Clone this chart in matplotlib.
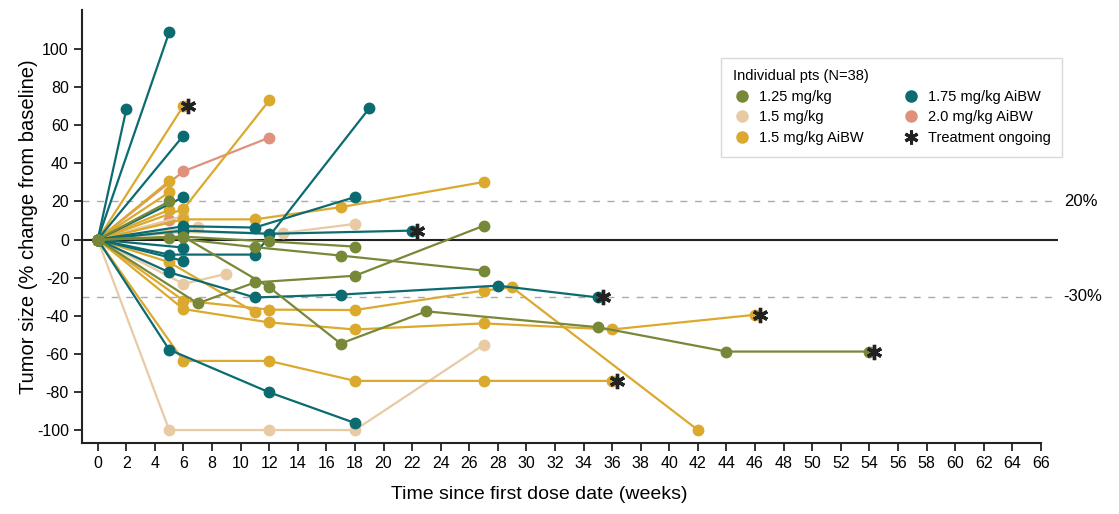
import matplotlib.pyplot as plt
from matplotlib.lines import Line2D

# each patient: (weeks, % change from baseline, treatment ongoing)
dose_125 = [
    ([0, 5], [0, 20], False),
    ([0, 5, 11, 17, 27], [0, 1, -4, -8.4, -16.3], False),
    ([0, 6, 12, 18], [0, 1.5, -1, -3.7], False),
    ([0, 6, 12, 17, 23, 35, 44, 54], [0, 1.5, -25, -54.6, -37.7, -46, -58.8, -58.8], True),
    ([0, 7, 11, 18, 27], [0, -33.5, -22.5, -19, 7.2], False),
]
dose_15 = [
    ([0, 5, 12, 18, 27], [0, -100, -100, -100, -55.3], False),
    ([0, 6, 9], [0, -23.3, -18], False),
    ([0, 6, 13, 18], [0, 3.9, 3.5, 8.2], False),
    ([0, 7], [0, 6.5], False),
    ([0, 6], [0, 12.3], False),
]
dose_15_aibw = [
    ([0, 6], [0, 70.2], True),
    ([0, 6, 12], [0, 16, 73], False),
    ([0, 5], [0, 30.7], False),
    ([0, 5], [0, 24.8], False),
    ([0, 5], [0, 15.6], False),
    ([0, 6, 11, 17, 27], [0, 10.6, 10.6, 17, 30.2], False),
    ([0, 5, 11], [0, -11.9, -38.2], False),
    ([0, 6, 12, 18, 27, 29, 42], [0, -32, -36.8, -37, -26.8, -25.1, -100], False),
    ([0, 6, 12, 18, 27, 36, 46], [0, -36.5, -43.5, -47.2, -44, -47.2, -39.5], True),
    ([0, 6, 12, 18, 27, 36], [0, -63.7, -63.7, -74.2, -74.2, -74.2], True),
]
dose_175_aibw = [
    ([0, 2], [0, 68.3], False),
    ([0, 5], [0, 108.8], False),
    ([0, 6], [0, 54.6], False),
    ([0, 6], [0, 22.3], False),
    ([0, 6, 11, 18], [0, 7, 6.3, 22.3], False),
    ([0, 6, 12, 22], [0, 4.7, 3, 4.7], True),
    ([0, 5, 11, 19], [0, -7.9, -7.9, 68.9], False),
    ([0, 6], [0, -4.2], False),
    ([0, 6], [0, -11.2], False),
    ([0, 5, 11, 17, 28, 35], [0, -17.2, -30.4, -28.9, -24.2, -30.4], True),
    ([0, 5, 12, 18], [0, -57.8, -80.2, -96.3], False),
]
dose_20_aibw = [
    ([0, 6, 12], [0, 35.8, 53.5], False),
    ([0, 5], [0, 10], False),
]

groups = [
    ("1.25 mg/kg", "#778838", dose_125),
    ("1.5 mg/kg", "#E8CAA4", dose_15),
    ("1.5 mg/kg AiBW", "#DBA92E", dose_15_aibw),
    ("1.75 mg/kg AiBW", "#0C6B70", dose_175_aibw),
    ("2.0 mg/kg AiBW", "#DF917E", dose_20_aibw),
]
draw_order = [4, 1, 2, 3, 0]

ref_lines = [20, -30]
ref_labels = ["20%", "-30%"]
x_ticks = list(range(0, 67, 2))
y_ticks = list(range(-100, 101, 20))

plt.rcParams["font.family"] = ["Liberation Sans", "DejaVu Sans"]
plt.rcParams["axes.unicode_minus"] = False

fig = plt.figure(figsize=(11.19, 5.14), dpi=100)
ax = fig.add_axes([82 / 1119, 71 / 514, 976 / 1119, 433 / 514])

ax.axhline(0, color="#222222", lw=1.5, zorder=1)
for yv in ref_lines:
    ax.axhline(yv, color="#aaaaaa", lw=1.0, dashes=(5, 5.5), zorder=1)

for gi in draw_order:
    name, color, patients = groups[gi]
    for weeks, pct, ongoing in patients:
        ax.plot(weeks, pct, color=color, lw=1.6, marker="o", ms=7.5,
                mec=color, mfc=color, zorder=3, solid_capstyle="round")
        if ongoing:
            ax.plot(weeks[-1] + 0.35, pct[-1], marker=(6, 2, 0), ms=11,
                    mew=2.4, color="#222222", zorder=5)

# baseline point
ax.plot(0, 0, marker="o", ms=7.5, color=groups[0][1], zorder=6)

for yv, lab in zip(ref_lines, ref_labels):
    ax.text(67.6, yv, lab, fontsize=12, va="center", ha="left", clip_on=False)

ax.set_xlim(-1.1, 67.2)
ax.set_ylim(-106.8, 120.5)
ax.set_xticks(x_ticks)
ax.set_yticks(y_ticks)
ax.tick_params(labelsize=11.5, length=6, width=1.3, color="#222222")
ax.spines["top"].set_visible(False)
ax.spines["right"].set_visible(False)
ax.spines["bottom"].set_bounds(-1.1, 66)
for s in ["left", "bottom"]:
    ax.spines[s].set_linewidth(1.5)
    ax.spines[s].set_color("#222222")

ax.set_xlabel("Time since first dose date (weeks)", fontsize=14)
ax.xaxis.set_label_coords(0.469, -0.1)
ax.set_ylabel("Tumor size (% change from baseline)", fontsize=14.5)
ax.yaxis.set_label_coords(-0.045, 0.5)

handles = []
labels = []
for gi in [0, 1, 2, 3, 4]:
    name, color, _ = groups[gi]
    handles.append(Line2D([], [], ls="none", marker="o", ms=8, color=color))
    labels.append(name)
handles.append(Line2D([], [], ls="none", marker=(6, 2, 0), ms=10, mew=2.2, color="#222222"))
labels.append("Treatment ongoing")

leg = ax.legend(handles, labels, title="Individual pts (N=38)", ncol=2,
                loc="upper left", bbox_to_anchor=(721 / 1119, 1 - 57.7 / 514),
                bbox_transform=fig.transFigure, borderaxespad=0,
                fontsize=10.5, title_fontsize=10.5, alignment="left",
                frameon=True, fancybox=False, edgecolor="#d0d0d0",
                handletextpad=0.5, columnspacing=2.6, labelspacing=0.45,
                borderpad=0.8, handlelength=1.3)
leg.get_frame().set_linewidth(1.0)

plt.savefig("out.png", dpi=100)
plt.close()
